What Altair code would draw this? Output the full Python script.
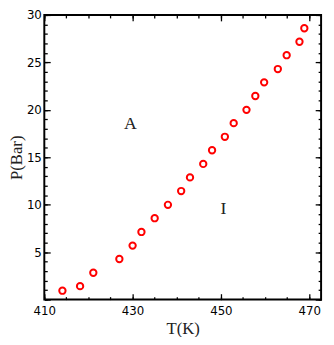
import altair as alt
import pandas as pd

T = [414.1, 418.1, 421.1, 427.0, 430.0, 432.0, 435.0, 438.0, 441.0, 443.0, 446.0,
     448.0, 450.9, 452.9, 455.8, 457.8, 459.8, 462.9, 464.9, 467.8, 468.9]
P = [0.94, 1.42, 2.83, 4.28, 5.69, 7.13, 8.58, 9.99, 11.44, 12.88, 14.3,
     15.74, 17.16, 18.6, 20.0, 21.46, 22.9, 24.3, 25.76, 27.18, 28.6]
region_labels = ["A", "I"]
label_T = [429.5, 450.6]
label_P = [18.5, 9.55]
x_major = [410, 430, 450, 470]
x_minor = list(range(410, 475, 5))
y_major = [0, 5, 10, 15, 20, 25, 30]
y_minor = list(range(0, 31))

df = pd.DataFrame({"T": T, "P": P})
lab = pd.DataFrame({"T": label_T, "P": label_P, "t": region_labels})

xs = alt.Scale(domain=[410, 472.7], nice=False, zero=False)
ys = alt.Scale(domain=[0, 30], nice=False, zero=False)

MAJ, MIN = 6, 3

def ax(orient, values, size, labels, title=None, padding=3, tpad=4):
    kw = dict(orient=orient, values=values, tickSize=size, offset=-size,
              domain=False, grid=False, labels=labels, tickColor="black",
              tickWidth=1.3, labelFont="DejaVu Sans", labelFontSize=12,
              labelColor="black", labelFlush=False, labelOverlap=False,
              labelPadding=padding)
    if title:
        kw.update(title=title, titleFont="Liberation Serif", titleFontSize=17,
                  titleFontWeight="normal", titleColor="#222", titlePadding=tpad)
    else:
        kw.update(title=None)
    if orient == "left" and labels:
        kw.update(labelExpr="datum.value == 0 ? '' : datum.label")
    return alt.Axis(**kw)

base = alt.Chart(df)

def layer(xa, ya, visible=False):
    if visible:
        m = base.mark_point(shape="circle", filled=False, color="red", size=42,
                            strokeWidth=2, opacity=1)
    else:
        m = base.mark_point(opacity=0)
    return m.encode(x=alt.X("T:Q", scale=xs, axis=xa),
                    y=alt.Y("P:Q", scale=ys, axis=ya))

l_min_bl = layer(ax("bottom", x_minor, MIN, False), ax("left", y_minor, MIN, False))
l_min_tr = layer(ax("top", x_minor, MIN, False), ax("right", y_minor, MIN, False))
l_maj_tr = layer(ax("top", x_major, MAJ, False), ax("right", y_major, MAJ, False))
pts = layer(ax("bottom", x_major, MAJ, True, "T(K)", padding=6, tpad=5),
            ax("left", y_major, MAJ, True, "P(Bar)", padding=3, tpad=1), visible=True)

txt = alt.Chart(lab).mark_text(font="Liberation Serif", fontSize=18, color="#222").encode(
    x=alt.X("T:Q", scale=xs, axis=None),
    y=alt.Y("P:Q", scale=ys, axis=None),
    text="t:N",
)

chart = alt.layer(l_min_bl, l_min_tr, l_maj_tr, pts, txt).resolve_axis(
    x="independent", y="independent"
).properties(
    width=282, height=290,
    autosize=alt.AutoSizeParams(type="none"),
    padding={"left": 37, "top": 4, "right": 5, "bottom": 35},
).configure_view(stroke="black", strokeWidth=2)

chart.save("out.html", embed_options={"renderer": "svg", "actions": False})
